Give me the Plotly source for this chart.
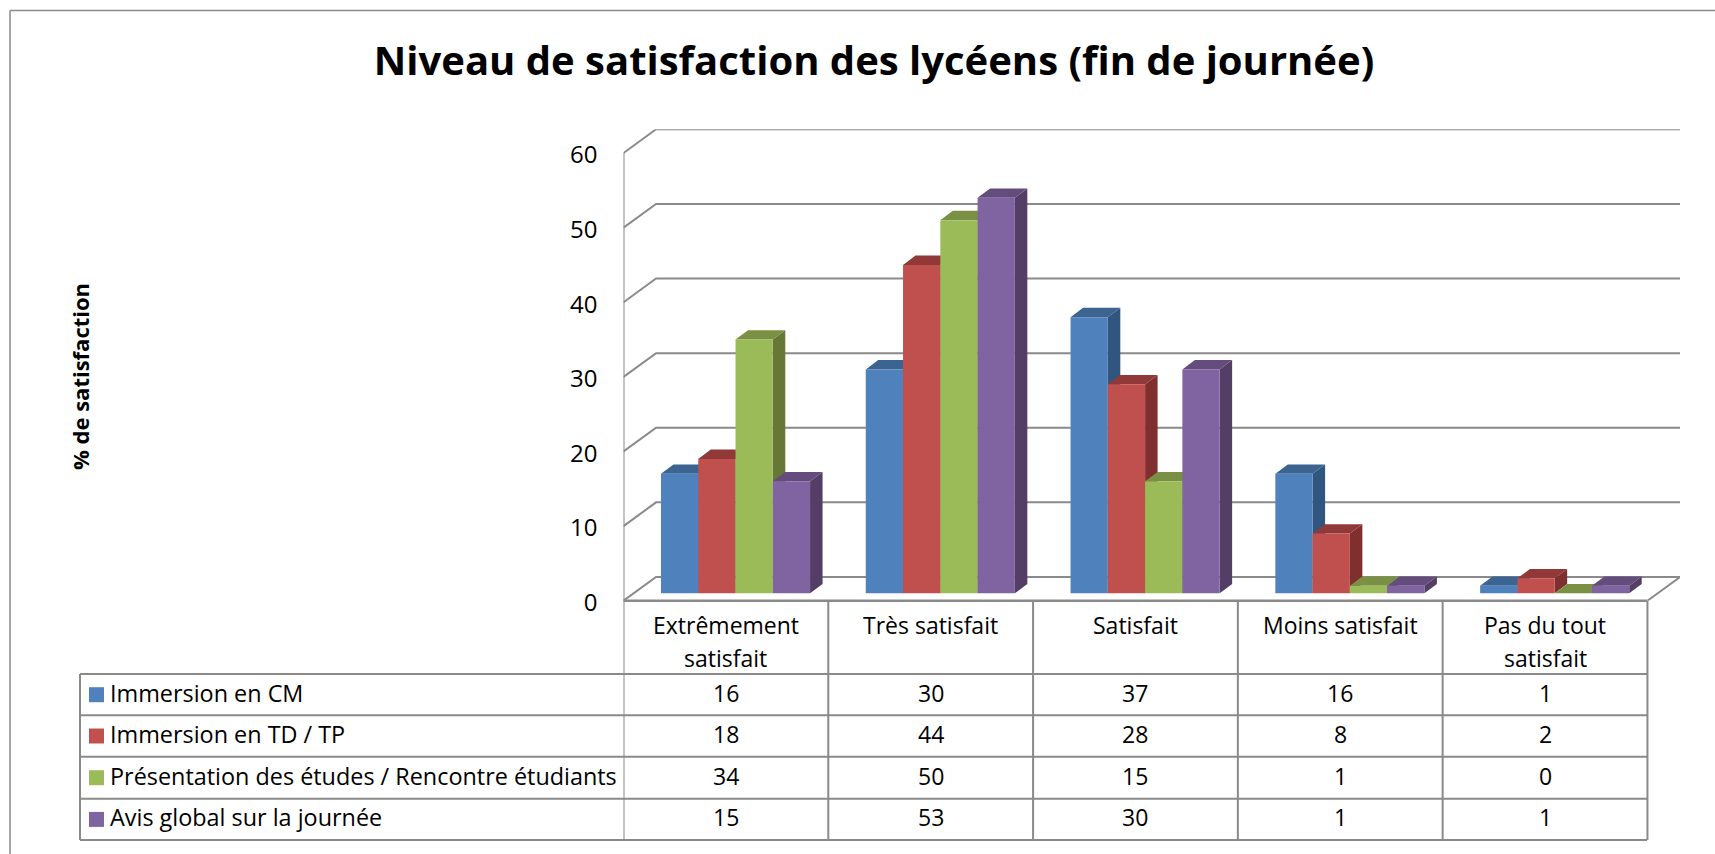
"""
Niveau de satisfaction des lyceens - 3D looking bars with a data table below
"""

import plotly.graph_objects as go

categories = ["Extrêmement<br>satisfait", "Très satisfait", "Satisfait", "Moins satisfait", "Pas du tout<br>satisfait"]
series_names = ["Immersion en CM", "Immersion en TD / TP", "Présentation des études / Rencontre étudiants", "Avis global sur la journée"]
immersion_cm = [16, 30, 37, 16, 1]
immersion_td_tp = [18, 44, 28, 8, 2]
presentation_etudes = [34, 50, 15, 1, 0]
avis_global = [15, 53, 30, 1, 1]
y_ticks = [0, 10, 20, 30, 40, 50, 60]

all_series = [immersion_cm, immersion_td_tp, presentation_etudes, avis_global]
front_colors = ["#4F81BD", "#C0504D", "#9BBB59", "#8064A2"]
top_colors = ["#3C6491", "#913939", "#7A9144", "#644C7D"]
side_colors = ["#30557F", "#7E2F2E", "#677735", "#533E66"]

W, H = 1715, 854
FONT = "Open Sans"
GRID = "#8A8A8A"

# depth of the fake 3D box, in axis units
BACK_DX, BACK_DY = 0.159, 3.18
BAR_SHIFT_X, BAR_SHIFT_Y = 0.047, 1.0
BAR_W = 0.182
FACE_DX, FACE_DY = 0.061, 1.25


def fx(x):
    return x / W


def fy(y):
    return 1 - y / H


fig = go.Figure()

# walls and gridlines
for t in y_ticks:
    fig.add_trace(go.Scatter(
        x=[-0.5, -0.5 + BACK_DX, 4.5 + BACK_DX], y=[t, t + BACK_DY, t + BACK_DY],
        mode="lines", line=dict(color=GRID, width=2), hoverinfo="skip", zorder=0,
    ))
fig.add_trace(go.Scatter(
    x=[-0.5, -0.5, None, 4.5, 4.5 + BACK_DX], y=[0, 60, None, 0, BACK_DY],
    mode="lines", line=dict(color=GRID, width=2), hoverinfo="skip", zorder=0,
))

# bars: top and side faces first, then the front face of the same series
for k, values in enumerate(all_series):
    xs = [i + BAR_SHIFT_X + (k - 1.5) * BAR_W for i in range(len(values))]
    top_x, top_y, side_x, side_y = [], [], [], []
    for x, v in zip(xs, values):
        left, right = x - BAR_W / 2, x + BAR_W / 2
        y0, y1 = BAR_SHIFT_Y, BAR_SHIFT_Y + v
        top_x += [left, left + FACE_DX, right + FACE_DX, right, left, None]
        top_y += [y1, y1 + FACE_DY, y1 + FACE_DY, y1, y1, None]
        side_x += [right, right + FACE_DX, right + FACE_DX, right, right, None]
        side_y += [y0, y0 + FACE_DY, y1 + FACE_DY, y1, y0, None]
    fig.add_trace(go.Scatter(
        x=side_x, y=side_y, mode="none", fill="toself", fillcolor=side_colors[k],
        hoverinfo="skip", zorder=2 * k + 1,
    ))
    fig.add_trace(go.Scatter(
        x=top_x, y=top_y, mode="none", fill="toself", fillcolor=top_colors[k],
        hoverinfo="skip", zorder=2 * k + 1,
    ))
    fig.add_trace(go.Bar(
        x=xs, y=values, base=BAR_SHIFT_Y, width=BAR_W, name=series_names[k],
        marker=dict(color=front_colors[k], line=dict(width=0)), zorder=2 * k + 2,
    ))

shapes = []
annotations = []
text_font = dict(family=FONT, size=23, color="#000000")

# outer frame, only its top and left edges are inside the picture
shapes.append(dict(type="line", xref="paper", yref="paper", x0=fx(10), x1=1, y0=fy(10.5), y1=fy(10.5),
                   line=dict(color=GRID, width=1.5)))
shapes.append(dict(type="line", xref="paper", yref="paper", x0=fx(10), x1=fx(10), y0=fy(10.5), y1=0,
                   line=dict(color=GRID, width=1.5)))

# table grid
TABLE_LEFT = 80
row_lines = [674, 715.3, 756.7, 798.7, 840]
shapes.append(dict(type="line", xref="paper", yref="paper", x0=fx(623.5), x1=fx(1647), y0=fy(600.7), y1=fy(600.7),
                   line=dict(color=GRID, width=2.5)))
for y in row_lines:
    shapes.append(dict(type="line", xref="paper", yref="paper", x0=fx(TABLE_LEFT), x1=fx(1647), y0=fy(y), y1=fy(y),
                       line=dict(color=GRID, width=2)))
shapes.append(dict(type="line", xref="paper", yref="paper", x0=fx(TABLE_LEFT), x1=fx(TABLE_LEFT), y0=fy(674), y1=fy(840),
                   line=dict(color=GRID, width=2)))
for i in range(len(categories) + 1):
    shapes.append(dict(type="line", xref="x", yref="paper", x0=i - 0.5, x1=i - 0.5, y0=fy(600.7), y1=fy(840),
                       line=dict(color=GRID, width=2)))

# category header cells, one annotation per text line
for i, c in enumerate(categories):
    for j, part in enumerate(c.split("<br>")):
        annotations.append(dict(x=i, xref="x", xanchor="center", y=fy(625 + 32.5 * j), yref="paper", yanchor="middle",
                                text=part, showarrow=False, font=text_font))

# series rows with colour keys
row_centers = [694.7, 736, 777.7, 819.4]
for k, name in enumerate(series_names):
    yc = row_centers[k]
    shapes.append(dict(type="rect", xref="paper", yref="paper", x0=fx(89), x1=fx(104), y0=fy(yc - 7.5), y1=fy(yc + 7.5),
                       fillcolor=front_colors[k], line=dict(width=0)))
    annotations.append(dict(x=fx(108), xref="paper", xanchor="left", y=fy(yc - 2), yref="paper", yanchor="middle",
                            text=name, showarrow=False, font=dict(family=FONT, size=23.4, color="#000000")))
    for i, v in enumerate(all_series[k]):
        annotations.append(dict(x=i, xref="x", xanchor="center", y=fy(yc - 2), yref="paper", yanchor="middle",
                                text=str(v), showarrow=False, font=text_font))

# axis title
annotations.append(dict(x=fx(80), xref="paper", xanchor="center", y=fy(377), yref="paper", yanchor="middle",
                        text="<b>% de satisfaction</b>", textangle=-90, showarrow=False,
                        font=dict(family=FONT, size=22, color="#000000")))

fig.update_layout(
    width=W,
    height=H,
    margin=dict(l=0, r=0, t=0, b=0, autoexpand=False),
    paper_bgcolor="white",
    plot_bgcolor="white",
    showlegend=False,
    barmode="overlay",
    title=dict(text="<b>Niveau de satisfaction des lycéens (fin de journée)</b>", x=874 / W, xanchor="center",
               y=fy(61), yanchor="middle", font=dict(family=FONT, size=40, color="#000000")),
    xaxis=dict(domain=[fx(623.5), fx(1680)], range=[-0.5, 4.5 + BACK_DX], showgrid=False, zeroline=False,
               showticklabels=False, showline=False, ticks=""),
    yaxis=dict(domain=[fy(600.7), fy(129.3)], range=[0, 60 + BACK_DY], showgrid=False, zeroline=False, showline=False,
               tickmode="array", tickvals=y_ticks, ticks="", ticklabelstandoff=25, ticklabelshift=2,
               tickfont=dict(family=FONT, size=24, color="#000000")),
    shapes=shapes,
    annotations=annotations,
)

fig.write_html(
    "out.html",
    config=dict(displayModeBar=False),
    post_script="document.body.style.margin='0';document.documentElement.style.overflow='hidden';",
)
